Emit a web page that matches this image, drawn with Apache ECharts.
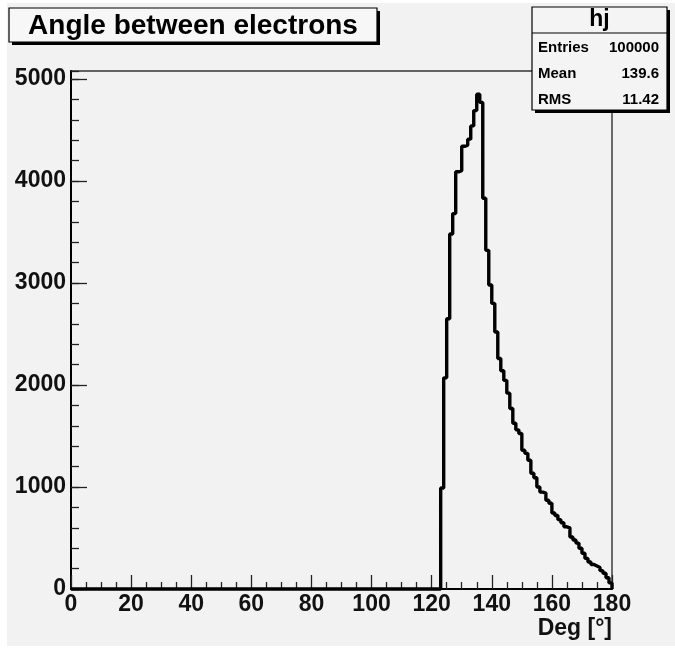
<!DOCTYPE html>
<html>
<head>
<meta charset="utf-8">
<script src="https://cdn.jsdelivr.net/npm/echarts@6/dist/echarts.min.js"></script>
<style>
  html, body { margin: 0; padding: 0; background: #ffffff; }
  #paper { position: absolute; left: 7px; top: 3px; width: 668px; height: 643px; background: #f2f2f2; }
  #chart { position: absolute; left: 0; top: 0; width: 675px; height: 650px; }
</style>
</head>
<body>
<div id="paper"></div>
<div id="chart"></div>
<script>
// Histogram "hj": opening angle between the two electrons, 1-degree bins over 0..180
const firstFilledBin = 123;            // lower edge (deg) of the first non-empty bin
const binCounts = [
  990, 2070, 2650, 3480, 3680, 4090, 4100,          // 123-129
  4340, 4350, 4410, 4540, 4690, 4850, 4770,         // 130-136
  3830, 3320, 2980, 2800, 2520, 2260, 2140,         // 137-143
  2045, 1920, 1770, 1625, 1560, 1525, 1360,         // 144-150
  1330, 1262, 1135, 1090, 1000, 950, 940,           // 151-157
  870, 840, 745, 720, 680, 650, 610,                // 158-164
  600, 510, 480, 450, 400, 350, 300,                // 165-171
  265, 240, 225, 210, 180, 155, 110, 60             // 172-179
];
const xRange = [0, 180];
const yMax = 5078;
const xTickStep = 20;
const yTickStep = 1000;
const yMinorStep = 200;

const titleText = 'Angle between electrons';
const statsName = 'hj';
const statsRows = [
  ['Entries', '100000'],
  ['Mean', '139.6'],
  ['RMS', '11.42']
];
const xTitle = 'Deg [°]';

// step outline: every bin as [lowEdge, count], closed at the upper edge
const stepData = [];
for (let k = xRange[0]; k < xRange[1]; k++) {
  const i = k - firstFilledBin;
  stepData.push([k, i >= 0 && i < binCounts.length ? binCounts[i] : 0]);
}
stepData.push([xRange[1], 0]);

const FONT = 'Liberation Sans, Arial, Helvetica, sans-serif';
const chart = echarts.init(document.getElementById('chart'), null, { renderer: 'canvas' });

const statsX = 532, statsY = 7, statsW = 135, statsH = 103;
const statsChildren = [
  { type: 'rect', shape: { x: statsX + 3, y: statsY + 3, width: statsW, height: statsH }, style: { fill: '#000' } },
  { type: 'rect', shape: { x: statsX, y: statsY, width: statsW, height: statsH }, style: { fill: '#f4f4f4', stroke: '#000', lineWidth: 1.2 } },
  { type: 'line', shape: { x1: statsX, y1: 33, x2: statsX + statsW, y2: 33 }, style: { stroke: '#000', lineWidth: 1.2 } },
  { type: 'text', x: statsX + statsW / 2, y: 20, style: { text: statsName, font: 'bold 23px ' + FONT, fill: '#000', align: 'center', verticalAlign: 'middle' } }
];
statsRows.forEach((row, i) => {
  const y = 48 + i * 26;
  statsChildren.push({ type: 'text', x: 538, y: y, style: { text: row[0], font: 'bold 15px ' + FONT, fill: '#000', align: 'left', verticalAlign: 'middle' } });
  statsChildren.push({ type: 'text', x: 659, y: y, style: { text: row[1], font: 'bold 15px ' + FONT, fill: '#000', align: 'right', verticalAlign: 'middle' } });
});

const plainNumber = v => String(v);

const option = {
  animation: false,
  backgroundColor: 'transparent',
  grid: { left: 71, right: 63, top: 71, bottom: 61, show: true, borderColor: '#333', borderWidth: 1.4, backgroundColor: 'transparent' },
  xAxis: {
    type: 'value', min: xRange[0], max: xRange[1], interval: xTickStep,
    axisLine: { show: true, onZero: false, lineStyle: { color: '#000', width: 2 } },
    axisTick: { show: true, inside: true, length: 14, lineStyle: { color: '#222', width: 1.3 } },
    minorTick: { show: true, splitNumber: 4, length: 7, lineStyle: { color: '#222', width: 1.3 } },
    axisLabel: { fontSize: 23, fontWeight: 'bold', fontFamily: FONT, color: '#111', margin: 4, formatter: plainNumber },
    splitLine: { show: false }, minorSplitLine: { show: false }
  },
  yAxis: [
    {
      type: 'value', min: 0, max: yMax, interval: yTickStep, position: 'left',
      axisLine: { show: true, onZero: false, lineStyle: { color: '#000', width: 2 } },
      axisTick: { show: true, inside: true, length: 16, lineStyle: { color: '#222', width: 1.3 } },
      axisLabel: { showMaxLabel: false, fontSize: 23, fontWeight: 'bold', fontFamily: FONT, color: '#111', margin: 5, formatter: plainNumber },
      splitLine: { show: false }
    },
    {
      type: 'value', min: 0, max: yMax, interval: yMinorStep, position: 'left',
      axisLine: { show: false },
      axisTick: { show: true, inside: true, length: 8, lineStyle: { color: '#222', width: 1.3 } },
      axisLabel: { show: false },
      splitLine: { show: false }
    }
  ],
  series: [{
    type: 'line', step: 'end', data: stepData, symbol: 'none', clip: false,
    xAxisIndex: 0, yAxisIndex: 0,
    lineStyle: { color: '#000', width: 3.4 }
  }],
  graphic: [
    { type: 'group', children: [
      { type: 'rect', shape: { x: 12, y: 11, width: 368, height: 34 }, style: { fill: '#000' } },
      { type: 'rect', shape: { x: 9, y: 8, width: 368, height: 34 }, style: { fill: '#f7f7f7', stroke: '#000', lineWidth: 1.2 } },
      { type: 'text', x: 193, y: 26, style: { text: titleText, font: 'bold 28px ' + FONT, fill: '#000', align: 'center', verticalAlign: 'middle' } }
    ] },
    { type: 'group', children: statsChildren },
    { type: 'text', x: 612, y: 629, style: { text: xTitle, font: 'bold 23px ' + FONT, fill: '#111', align: 'right', verticalAlign: 'middle' } }
  ]
};
chart.setOption(option);
</script>
</body>
</html>
